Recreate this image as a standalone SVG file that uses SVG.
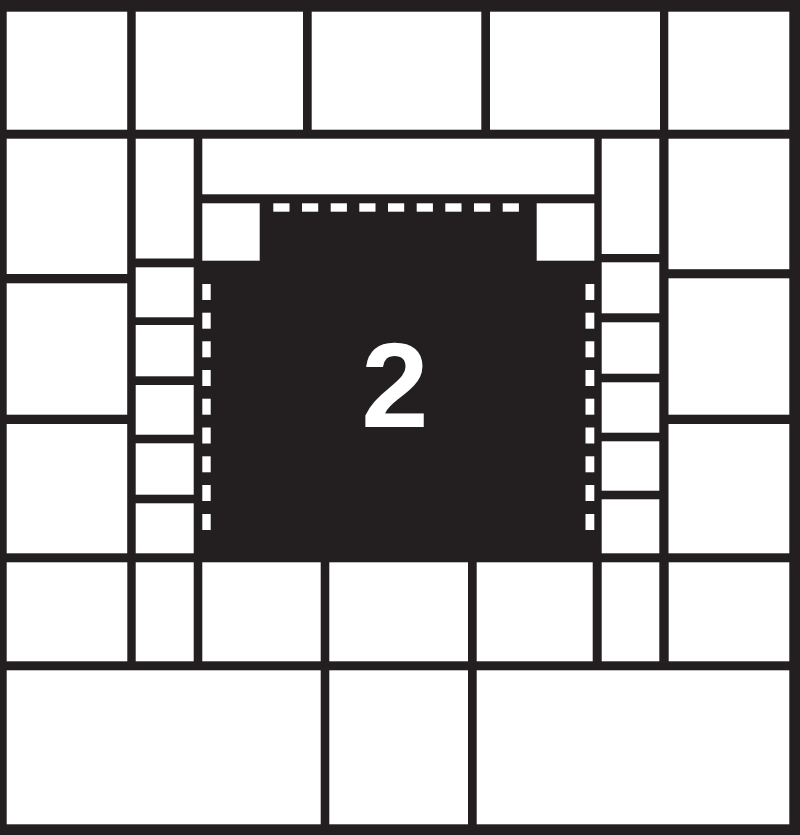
<svg xmlns="http://www.w3.org/2000/svg" width="800" height="835" viewBox="0 0 800 835">
<style>
.bg{fill:#231f20}
.c{fill:#ffffff}
.d{fill:#ffffff}
.lbl{font-family:"Liberation Sans",Arial,sans-serif;font-weight:bold;font-size:121px;fill:#ffffff;text-anchor:middle}
</style>
<rect class="bg" x="0" y="0" width="800" height="835"/>
<g id="row1">
<rect class="c" x="6.7" y="11.7" width="120.5" height="118"/>
<rect class="c" x="135.7" y="11.7" width="167.3" height="118"/>
<rect class="c" x="311.7" y="11.7" width="169.6" height="118"/>
<rect class="c" x="490" y="11.7" width="170" height="118"/>
<rect class="c" x="668.3" y="11.7" width="121" height="118"/>
</g>
<g id="leftcol">
<rect class="c" x="6.7" y="138.7" width="120.5" height="135.3"/>
<rect class="c" x="6.7" y="283.3" width="120.5" height="131.4"/>
<rect class="c" x="6.7" y="424" width="120.5" height="129.3"/>
</g>
<g id="leftnarrow">
<rect class="c" x="135.7" y="138.7" width="58" height="119.8"/>
<rect class="c" x="135.7" y="267.3" width="58" height="50"/>
<rect class="c" x="135.7" y="325" width="58" height="51.3"/>
<rect class="c" x="135.7" y="385" width="58" height="49.7"/>
<rect class="c" x="135.7" y="443.3" width="58" height="51.4"/>
<rect class="c" x="135.7" y="503.3" width="58" height="50"/>
</g>
<g id="topbanner">
<rect class="c" x="202.3" y="138.7" width="392" height="55.6"/>
<rect class="c" x="202.3" y="203.3" width="57.4" height="57.4"/>
<rect class="c" x="536.7" y="203.3" width="57.6" height="57.4"/>
</g>
<g id="rightnarrow">
<rect class="c" x="601.7" y="138.7" width="57.6" height="115.3"/>
<rect class="c" x="601.7" y="262.3" width="57.6" height="51"/>
<rect class="c" x="601.7" y="322.3" width="57.6" height="51.4"/>
<rect class="c" x="601.7" y="382.3" width="57.6" height="50.4"/>
<rect class="c" x="601.7" y="441.3" width="57.6" height="49.4"/>
<rect class="c" x="601.7" y="499.3" width="57.6" height="54"/>
</g>
<g id="rightcol">
<rect class="c" x="668.5" y="138.7" width="120.8" height="130.5"/>
<rect class="c" x="668.5" y="278.3" width="120.8" height="136.4"/>
<rect class="c" x="668.5" y="424" width="120.8" height="129.3"/>
</g>
<g id="row5">
<rect class="c" x="6.7" y="562.3" width="120.6" height="99"/>
<rect class="c" x="135.7" y="562.3" width="58" height="99"/>
<rect class="c" x="202.3" y="562.3" width="118.4" height="99"/>
<rect class="c" x="329.3" y="562.3" width="138.7" height="99"/>
<rect class="c" x="476.7" y="562.3" width="116" height="99"/>
<rect class="c" x="601.7" y="562.3" width="57.6" height="99"/>
<rect class="c" x="668.7" y="562.3" width="120.6" height="99"/>
</g>
<g id="row6">
<rect class="c" x="6.7" y="670.3" width="314" height="154"/>
<rect class="c" x="329.3" y="670.3" width="138.7" height="154"/>
<rect class="c" x="476.7" y="670.3" width="312.6" height="154"/>
</g>
<g id="dashes-top">
<rect class="d" x="273.3" y="203.3" width="16.2" height="8.4"/>
<rect class="d" x="302" y="203.3" width="16.2" height="8.4"/>
<rect class="d" x="330.7" y="203.3" width="16.2" height="8.4"/>
<rect class="d" x="359.3" y="203.3" width="16.2" height="8.4"/>
<rect class="d" x="388" y="203.3" width="16.2" height="8.4"/>
<rect class="d" x="416.7" y="203.3" width="16.2" height="8.4"/>
<rect class="d" x="445.3" y="203.3" width="16.2" height="8.4"/>
<rect class="d" x="474" y="203.3" width="16.2" height="8.4"/>
<rect class="d" x="502.7" y="203.3" width="16.2" height="8.4"/>
</g>
<g id="dashes-left">
<rect class="d" x="202.3" y="284" width="8.4" height="16"/>
<rect class="d" x="202.3" y="312.7" width="8.4" height="16"/>
<rect class="d" x="202.3" y="341.3" width="8.4" height="16"/>
<rect class="d" x="202.3" y="370" width="8.4" height="16"/>
<rect class="d" x="202.3" y="398.7" width="8.4" height="16"/>
<rect class="d" x="202.3" y="427.5" width="8.4" height="16"/>
<rect class="d" x="202.3" y="456.3" width="8.4" height="16"/>
<rect class="d" x="202.3" y="485" width="8.4" height="16"/>
<rect class="d" x="202.3" y="514" width="8.4" height="16"/>
</g>
<g id="dashes-right">
<rect class="d" x="585.5" y="284" width="8.8" height="16"/>
<rect class="d" x="585.5" y="312.7" width="8.8" height="16"/>
<rect class="d" x="585.5" y="341.3" width="8.8" height="16"/>
<rect class="d" x="585.5" y="370" width="8.8" height="16"/>
<rect class="d" x="585.5" y="398.7" width="8.8" height="16"/>
<rect class="d" x="585.5" y="427.5" width="8.8" height="16"/>
<rect class="d" x="585.5" y="456.3" width="8.8" height="16"/>
<rect class="d" x="585.5" y="485" width="8.8" height="16"/>
<rect class="d" x="585.5" y="514" width="8.8" height="16"/>
</g>
<g id="center">
<text class="lbl" x="395" y="427.3">2</text>
</g>
</svg>
